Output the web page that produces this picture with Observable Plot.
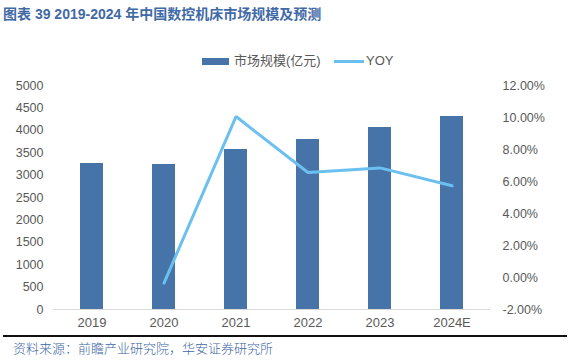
<!DOCTYPE html>
<html>
<head>
<meta charset="utf-8">
<script src="https://cdn.jsdelivr.net/npm/d3@7"></script>
<script src="https://cdn.jsdelivr.net/npm/@observablehq/plot@0.6"></script>
<style>
  html, body { margin: 0; padding: 0; background: #fff; }
  #wrap { position: relative; width: 570px; height: 360px; overflow: hidden; font-family: "Liberation Sans", Arial, "Noto Sans CJK SC", sans-serif; }
  #title { position: absolute; left: 3px; top: 4px; font-family: "Liberation Sans", "Noto Sans CJK SC", sans-serif; font-weight: bold; font-size: 14px; color: #3f6aa6; white-space: nowrap; line-height: 20px; }
  #legend { position: absolute; left: 0; top: 50px; width: 570px; height: 22px; font-size: 13px; color: #595959; }
  .sw-bar { position: absolute; left: 202px; top: 8px; width: 27px; height: 7px; background: #4673a8; }
  .lab1 { position: absolute; left: 234px; top: 2px; font-family: "Liberation Sans", "Noto Sans CJK SC", sans-serif; line-height: 18px; white-space: nowrap; }
  .sw-line { position: absolute; left: 334px; top: 10px; width: 30px; height: 3px; background: #6cc0f0; }
  .lab2 { position: absolute; left: 366px; top: 2px; line-height: 18px; white-space: nowrap; }
  #chart { position: absolute; left: 0; top: 72px; }
  #rule { position: absolute; left: 3px; top: 335px; width: 564px; height: 2px; background: #111; }
  #source { position: absolute; left: 13px; top: 339px; font-family: "Noto Sans CJK SC", sans-serif; font-weight: 300; font-size: 13px; color: #3d66a3; line-height: 18px; white-space: nowrap; }
</style>
</head>
<body>
<div id="wrap">
  <div id="title">图表 39 2019-2024 年中国数控机床市场规模及预测</div>
  <div id="legend">
    <div class="sw-bar"></div><div class="lab1">市场规模(亿元)</div>
    <div class="sw-line"></div><div class="lab2">YOY</div>
  </div>
  <div id="chart"></div>
  <div id="rule"></div>
  <div id="source">资料来源：前瞻产业研究院，华安证券研究所</div>
</div>
<script>
const years = ["2019", "2020", "2021", "2022", "2023", "2024E"];
const marketSize = [3259, 3237, 3571, 3795, 4063, 4308];
const yoy = [null, -0.35, 10.06, 6.56, 6.85, 5.73];
const leftTicks = [0, 500, 1000, 1500, 2000, 2500, 3000, 3500, 4000, 4500, 5000];
const rightTicks = [-2, 0, 2, 4, 6, 8, 10, 12];

// map right-axis percentage domain [-2, 12] onto left domain [0, 5000]
const pctToLeft = p => (p + 2) / 14 * 5000;

const bars = years.map((y, i) => ({year: y, value: marketSize[i]}));
const line = years.map((y, i) => ({year: y, yoy: yoy[i]})).filter(d => d.yoy != null);

const chart = Plot.plot({
  width: 570,
  height: 262,
  marginTop: 13,
  marginBottom: 25,
  marginLeft: 53,
  marginRight: 80,
  style: {fontFamily: "Liberation Sans, Arial, sans-serif", fontSize: "12px", color: "#595959", background: "#fff"},
  x: {domain: years, paddingInner: 0.685, paddingOuter: 0.34, axis: null},
  y: {domain: [0, 5000], axis: null},
  marks: [
    Plot.axisX({tickSize: 0, tickPadding: 8, fontSize: 13, fill: "#595959", label: null}),
    Plot.axisY({ticks: leftTicks, tickSize: 0, tickPadding: 10, anchor: "left", tickFormat: d => String(d), fontSize: 12.5, fill: "#595959", label: null}),
    Plot.axisY({ticks: rightTicks.map(pctToLeft), tickSize: 0, tickPadding: 12, anchor: "right",
      tickFormat: v => (v / 5000 * 14 - 2).toFixed(2) + "%", fontSize: 12.5, fill: "#595959", label: null}),
    Plot.barY(bars, {x: "year", y: "value", fill: "#4673a8"}),
    Plot.ruleY([0], {stroke: "#d9d9d9", strokeWidth: 1}),
    Plot.line(line, {x: "year", y: d => pctToLeft(d.yoy), stroke: "#6cc0f0", strokeWidth: 3, strokeLinejoin: "miter", strokeLinecap: "round"})
  ]
});
document.getElementById("chart").appendChild(chart);
</script>
</body>
</html>
